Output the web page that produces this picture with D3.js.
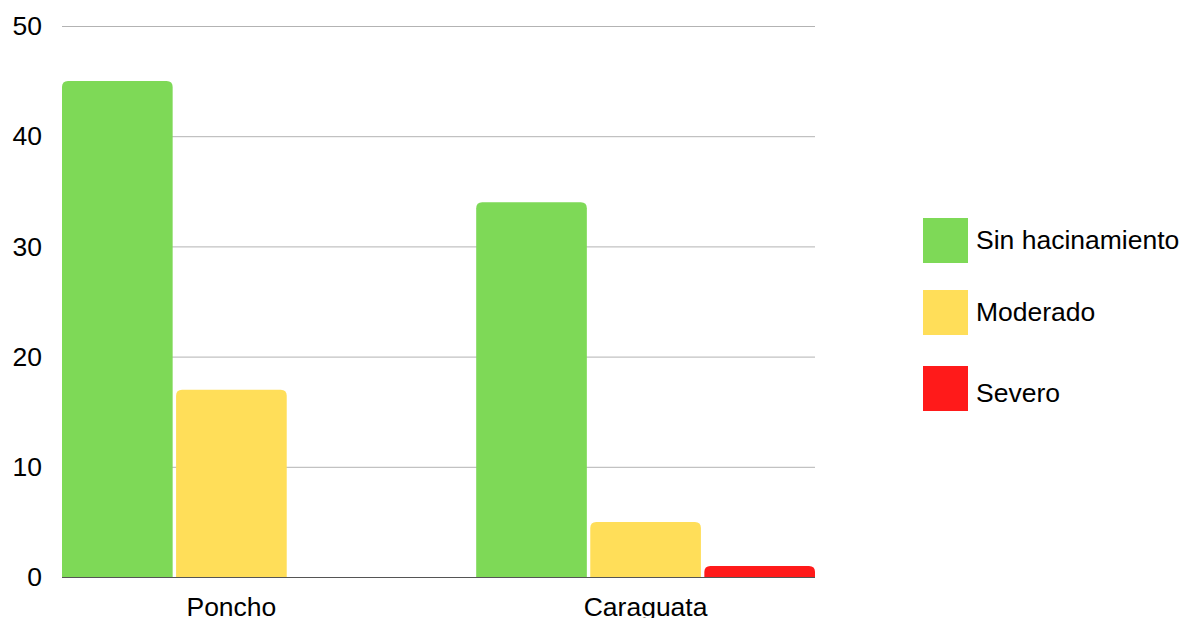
<!DOCTYPE html>
<html>
<head>
<meta charset="utf-8">
<script src="https://cdn.jsdelivr.net/npm/d3@7"></script>
<style>
  body { margin: 0; background: #fff; }
  text { font-family: "Liberation Sans", Arial, sans-serif; }
</style>
</head>
<body>
<svg id="chart" width="1181" height="618"></svg>
<script>
const categories = ["Poncho", "Caraguata"];
const series = ["Sin hacinamiento", "Moderado", "Severo"];
const colors = ["#7ed957", "#ffde59", "#ff1a1a"];
const values = [
  [45, 17, 0],   // Poncho
  [34, 5, 1]     // Caraguata
];
const yTicks = [0, 10, 20, 30, 40, 50];

const width = 1181, height = 618;
const margin = {top: 26, right: 366, bottom: 41, left: 62};
const fontSize = 26.5;

const svg = d3.select("#chart");

const x = d3.scaleBand()
    .domain(categories)
    .range([margin.left, width - margin.right])
    .paddingInner(0.182)
    .paddingOuter(0);

const xSub = d3.scaleBand()
    .domain(series)
    .range([0, x.bandwidth()])
    .paddingInner(0.03);

const y = d3.scaleLinear()
    .domain([0, 50])
    .range([height - margin.bottom, margin.top]);

// gridlines
svg.append("g")
  .selectAll("line")
  .data(yTicks.filter(d => d > 0))
  .join("line")
    .attr("x1", margin.left)
    .attr("x2", width - margin.right)
    .attr("y1", d => y(d) + 0.5)
    .attr("y2", d => y(d) + 0.5)
    .attr("stroke", "#b3b3b3")
    .attr("stroke-width", 1);

// y labels
svg.append("g")
  .selectAll("text")
  .data(yTicks)
  .join("text")
    .attr("x", 42)
    .attr("y", d => y(d))
    .attr("dy", "0.35em")
    .attr("text-anchor", "end")
    .attr("font-size", fontSize)
    .attr("fill", "#000")
    .text(d => d);

// rounded-top bar path
function barPath(x0, w, yTop, yBase, r) {
  const h = yBase - yTop;
  r = Math.min(r, h, w / 2);
  return `M${x0},${yBase}V${yTop + r}Q${x0},${yTop} ${x0 + r},${yTop}` +
         `H${x0 + w - r}Q${x0 + w},${yTop} ${x0 + w},${yTop + r}V${yBase}Z`;
}

const groups = svg.append("g")
  .selectAll("g")
  .data(categories)
  .join("g")
    .attr("transform", d => `translate(${x(d)},0)`);

groups.selectAll("path")
  .data((c, i) => series.map((s, j) => ({s, j, v: values[i][j]})).filter(d => d.v > 0))
  .join("path")
    .attr("d", d => barPath(xSub(d.s), xSub.bandwidth(), y(d.v), y(0), 6))
    .attr("fill", d => colors[d.j]);

// baseline
svg.append("line")
    .attr("x1", margin.left)
    .attr("x2", width - margin.right)
    .attr("y1", y(0) + 0.5)
    .attr("y2", y(0) + 0.5)
    .attr("stroke", "#555")
    .attr("stroke-width", 1.2);

// category labels
svg.append("g")
  .selectAll("text")
  .data(categories)
  .join("text")
    .attr("x", d => x(d) + x.bandwidth() / 2)
    .attr("y", 616)
    .attr("text-anchor", "middle")
    .attr("font-size", fontSize)
    .attr("fill", "#000")
    .text(d => d);

// legend
const legendY = [218, 290, 366];
const legendTextY = [31, 31, 36];
const legend = svg.append("g")
  .selectAll("g")
  .data(series)
  .join("g")
    .attr("transform", (d, i) => `translate(923,${legendY[i]})`);

legend.append("rect")
    .attr("width", 45)
    .attr("height", 45)
    .attr("fill", (d, i) => colors[i]);

legend.append("text")
    .attr("x", 53)
    .attr("y", (d, i) => legendTextY[i])
    .attr("font-size", fontSize)
    .attr("fill", "#000")
    .text(d => d);
</script>
</body>
</html>
